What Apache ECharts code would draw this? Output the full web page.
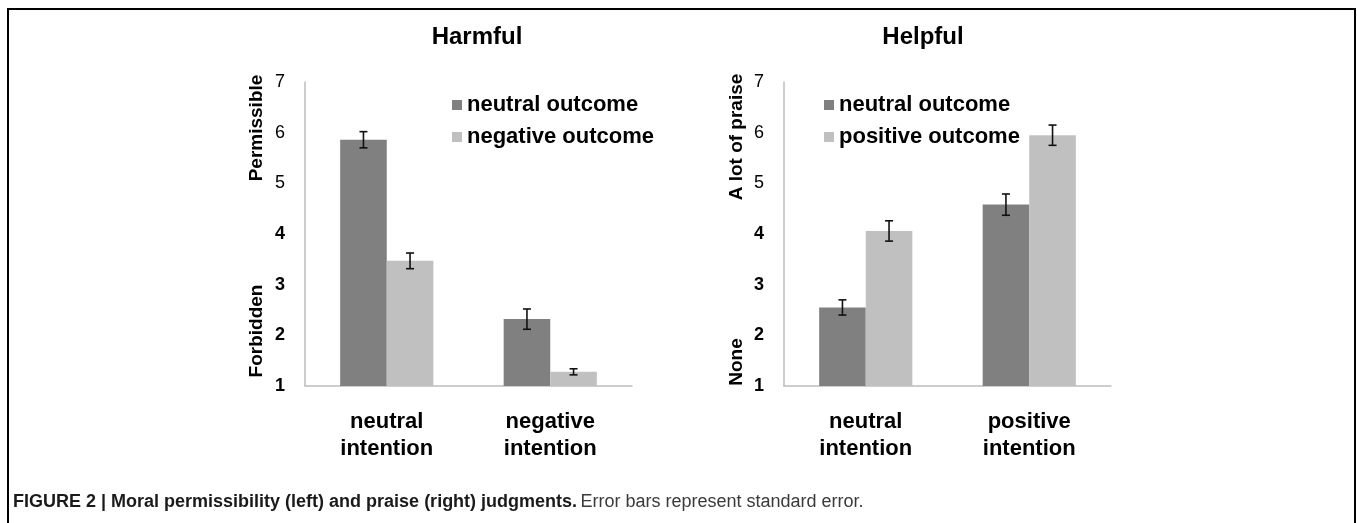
<!DOCTYPE html>
<html>
<head>
<meta charset="utf-8">
<script src="https://cdn.jsdelivr.net/npm/echarts@6/dist/echarts.min.js"></script>
<style>
  html, body { margin: 0; padding: 0; background: #fff; }
  #chart { width: 1357px; height: 523px; }
  /* figure frame, open at the bottom */
  .frame {
    position: absolute; left: 7px; top: 8px; right: 1px; height: 530px;
    border: 2px solid #000; border-bottom: none; pointer-events: none;
  }
</style>
</head>
<body>
<div id="chart"></div>
<div class="frame"></div>
<script>
// categories
const harmCategories = ['neutral\nintention', 'negative\nintention'];
const helpCategories = ['neutral\nintention', 'positive\nintention'];
// y ticks 1..7
const yMin = 1;
const yMax = 7;

// Harmful panel (means and SE)
const harmNeutral = [5.86, 2.32];
const harmNeutralErr = [0.16, 0.20];
const harmNegative = [3.47, 1.28];
const harmNegativeErr = [0.155, 0.06];

// Helpful panel
const helpNeutral = [2.55, 4.58];
const helpNeutralErr = [0.15, 0.21];
const helpPositive = [4.06, 5.95];
const helpPositiveErr = [0.20, 0.20];

const FONT = '"Liberation Sans", Arial, Helvetica, sans-serif';
const DARK = '#808080';
const LIGHT = '#c0c0c0';
const CAT_GAP = 0.43; // barCategoryGap

const chart = echarts.init(document.getElementById('chart'));

// error bar layer, drawn on top of grouped bars
function errorSeries(gridIdx, means, errs, side) {
  const data = means.map((m, i) => [i, m, errs[i], side]);
  return {
    type: 'custom',
    xAxisIndex: gridIdx,
    yAxisIndex: gridIdx,
    z: 10,
    silent: true,
    data,
    renderItem(params, api) {
      const cat = api.value(0);
      const mean = api.value(1);
      const err = api.value(2);
      const s = api.value(3);
      const band = api.size([1, 0])[0];
      const barW = band * (1 - CAT_GAP) / 2;
      const cx = api.coord([cat, mean])[0] + s * barW / 2;
      const top = api.coord([cat, mean + err])[1];
      const bot = api.coord([cat, mean - err])[1];
      const cap = 4;
      const style = { stroke: '#111', lineWidth: 1.6 };
      return {
        type: 'group',
        children: [
          { type: 'line', shape: { x1: cx, y1: top, x2: cx, y2: bot }, style },
          { type: 'line', shape: { x1: cx - cap, y1: top, x2: cx + cap, y2: top }, style },
          { type: 'line', shape: { x1: cx - cap, y1: bot, x2: cx + cap, y2: bot }, style }
        ]
      };
    }
  };
}

function barSeries(gridIdx, name, values, color) {
  return {
    name,
    type: 'bar',
    xAxisIndex: gridIdx,
    yAxisIndex: gridIdx,
    data: values,
    barGap: '0%',
    barCategoryGap: CAT_GAP * 100 + '%',
    itemStyle: { color },
    emphasis: { disabled: true }
  };
}

function xAxisFor(gridIdx, cats) {
  return {
    type: 'category',
    gridIndex: gridIdx,
    data: cats,
    axisLine: { lineStyle: { color: '#bdbdbd', width: 1.5 } },
    axisTick: { show: false },
    axisLabel: {
      margin: 22,
      fontFamily: FONT,
      fontSize: 22,
      fontWeight: 'bold',
      color: '#000',
      lineHeight: 27
    }
  };
}

function yAxisFor(gridIdx) {
  return {
    type: 'value',
    gridIndex: gridIdx,
    min: yMin,
    max: yMax,
    interval: 1,
    splitLine: { show: false },
    axisTick: { show: false },
    axisLine: { show: true, lineStyle: { color: '#bdbdbd', width: 1.5 } },
    axisLabel: {
      margin: 20,
      // upper values look regular, lower ones bold in the source
      formatter: (v) => (v >= 5 ? '{r|' + v + '}' : '{b|' + v + '}'),
      rich: {
        r: { fontFamily: FONT, fontSize: 18, fontWeight: 'normal', color: '#000' },
        b: { fontFamily: FONT, fontSize: 18, fontWeight: 'bold', color: '#000' }
      }
    }
  };
}

function legendFor(left, names) {
  return {
    orient: 'vertical',
    left,
    top: 89,
    icon: 'rect',
    itemWidth: 10,
    itemHeight: 10,
    itemGap: 10,
    selectedMode: false,
    data: names,
    textStyle: { fontFamily: FONT, fontSize: 22, fontWeight: 'bold', color: '#000', lineHeight: 22 }
  };
}

function vText(x, y, text) {
  return {
    type: 'text',
    x, y,
    rotation: Math.PI / 2,
    style: {
      text,
      align: 'center',
      verticalAlign: 'middle',
      font: 'bold 19px ' + FONT,
      fill: '#000'
    }
  };
}

function titleText(x, text) {
  return {
    type: 'text',
    x, y: 37,
    style: { text, align: 'center', verticalAlign: 'middle', font: 'bold 24px ' + FONT, fill: '#000' }
  };
}

const option = {
  animation: false,
  grid: [
    { left: 305, right: 725, top: 82, bottom: 137 },
    { left: 784, right: 246, top: 82, bottom: 137 }
  ],
  xAxis: [xAxisFor(0, harmCategories), xAxisFor(1, helpCategories)],
  yAxis: [yAxisFor(0), yAxisFor(1)],
  legend: [
    legendFor(447, ['neutral outcome', 'negative outcome']),
    legendFor(819, ['neutral outcome', 'positive outcome'])
  ],
  series: [
    barSeries(0, 'neutral outcome', harmNeutral, DARK),
    barSeries(0, 'negative outcome', harmNegative, LIGHT),
    barSeries(1, 'neutral outcome', helpNeutral, DARK),
    barSeries(1, 'positive outcome', helpPositive, LIGHT),
    errorSeries(0, harmNeutral, harmNeutralErr, -1),
    errorSeries(0, harmNegative, harmNegativeErr, 1),
    errorSeries(1, helpNeutral, helpNeutralErr, -1),
    errorSeries(1, helpPositive, helpPositiveErr, 1)
  ],
  graphic: [
    titleText(477, 'Harmful'),
    titleText(923, 'Helpful'),
    vText(257, 128, 'Permissible'),
    vText(257, 331, 'Forbidden'),
    vText(737, 137, 'A lot of praise'),
    vText(737, 362, 'None'),
    {
      type: 'text',
      x: 13, y: 502,
      style: {
        text: '{b|FIGURE 2 | Moral permissibility (left) and praise (right) judgments.} {r|Error bars represent standard error.}',
        verticalAlign: 'middle',
        rich: {
          b: { fontFamily: FONT, fontSize: 18, fontWeight: 'bold', fill: '#1a1a1a' },
          r: { fontFamily: FONT, fontSize: 18, fontWeight: 'normal', fill: '#3a3a3a' }
        }
      }
    }
  ]
};

chart.setOption(option);
</script>
</body>
</html>
